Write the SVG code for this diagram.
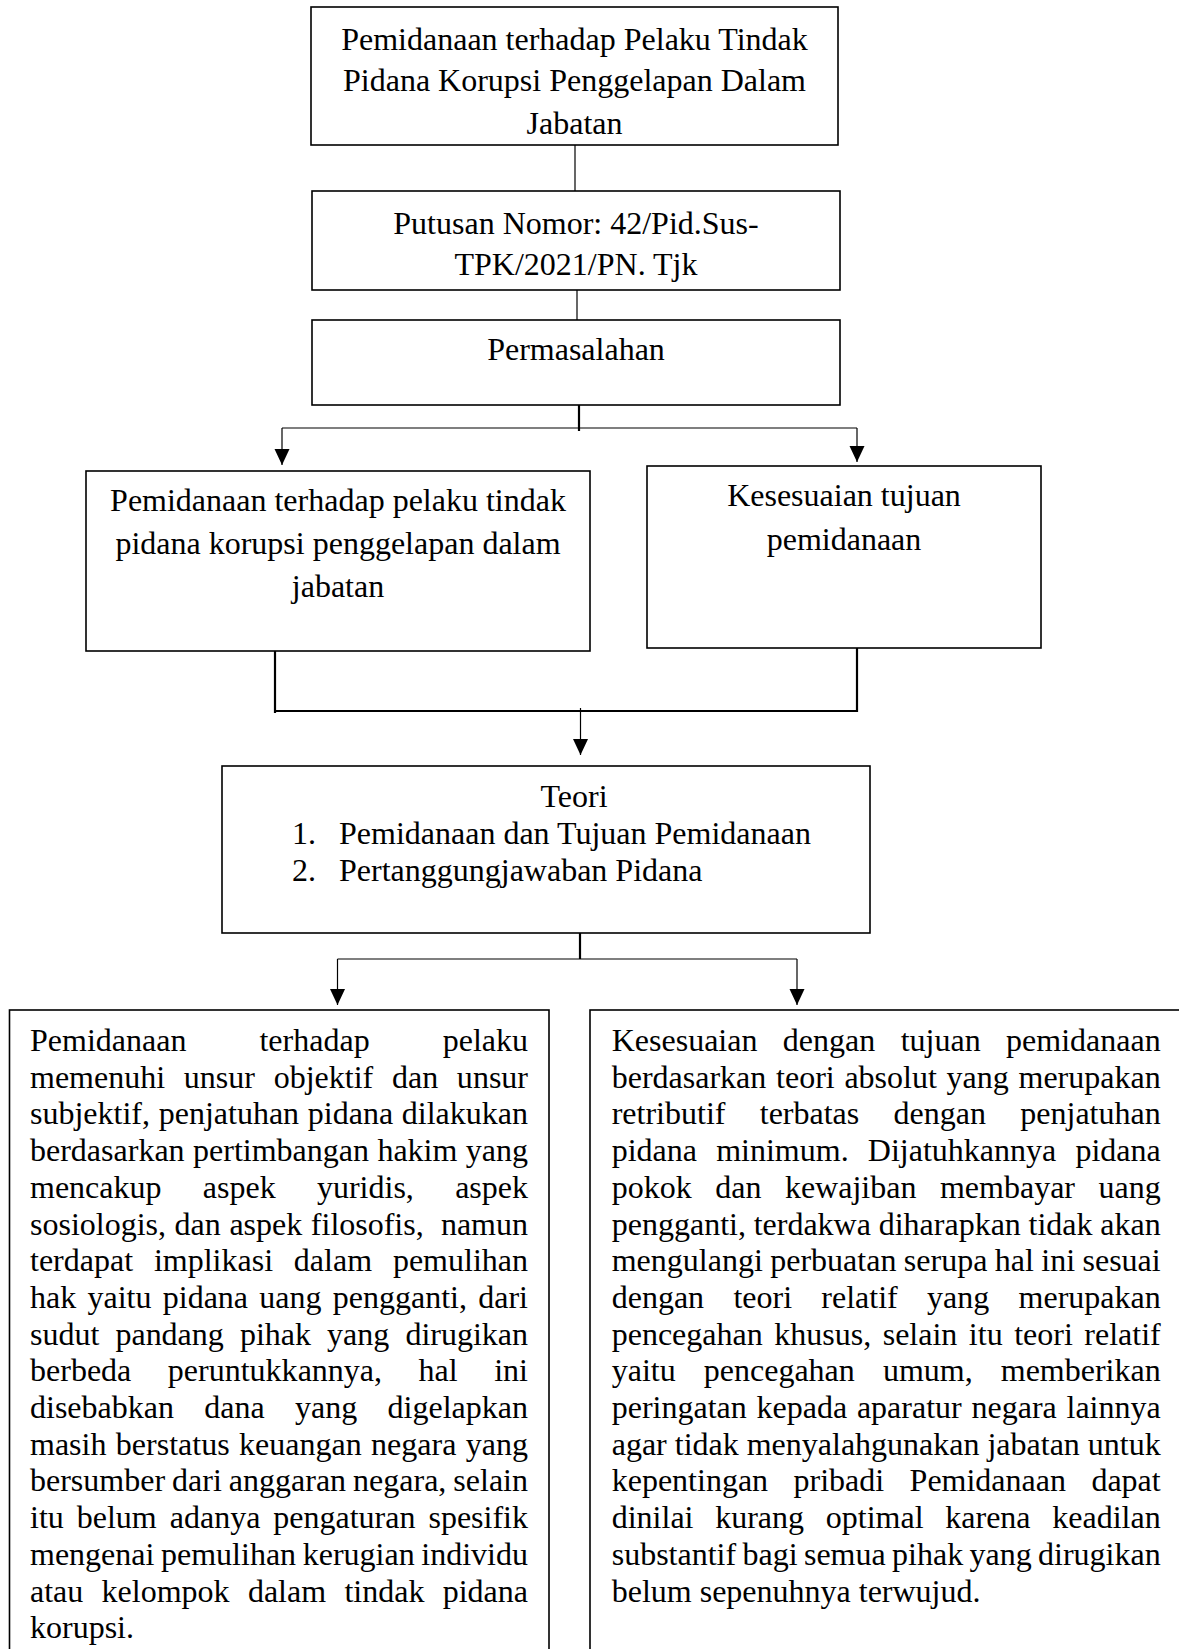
<svg xmlns="http://www.w3.org/2000/svg" width="1179" height="1649" viewBox="0 0 1179 1649">
<style>
.box{fill:#fff;stroke:#000;stroke-width:1.6}
.ln{stroke:#000;stroke-width:1.2;fill:none}
.lt{stroke:#000;stroke-width:2.2;fill:none}
.t{font-family:'Liberation Serif','Times New Roman',serif;font-size:32px;fill:#000}
.c{text-anchor:middle}
</style>
<defs>
<marker id="arr" markerUnits="userSpaceOnUse" markerWidth="16" markerHeight="16" viewBox="0 0 16 16" refX="16" refY="8" orient="auto">
<path d="M0,0.5 L16,8 L0,15.5 Z" fill="#000"/>
</marker>
</defs>
<rect width="1179" height="1649" fill="#fff"/>

<g id="connectors">
<line class="ln" x1="575" y1="145" x2="575" y2="191"/>
<line class="ln" x1="577" y1="290" x2="577" y2="320"/>
<line class="lt" x1="579" y1="405" x2="579" y2="431"/>
<line class="ln" x1="282" y1="428" x2="857" y2="428"/>
<line class="ln" x1="282" y1="428" x2="282" y2="465" marker-end="url(#arr)"/>
<line class="ln" x1="857" y1="428" x2="857" y2="462" marker-end="url(#arr)"/>
<line class="lt" x1="275" y1="651" x2="275" y2="713"/>
<line class="lt" x1="857" y1="645" x2="857" y2="712"/>
<line class="lt" x1="275" y1="711" x2="857" y2="711"/>
<line class="ln" x1="580.5" y1="708" x2="580.5" y2="755" marker-end="url(#arr)"/>
<line class="lt" x1="580" y1="933" x2="580" y2="959"/>
<line class="ln" x1="337.5" y1="959" x2="797" y2="959"/>
<line class="ln" x1="337.5" y1="959" x2="337.5" y2="1005" marker-end="url(#arr)"/>
<line class="ln" x1="797" y1="959" x2="797" y2="1005" marker-end="url(#arr)"/>
</g>

<g id="n1">
<rect class="box" x="311" y="7" width="527" height="138"/>
<text class="t c" x="574.5" y="49.5">Pemidanaan terhadap Pelaku Tindak</text>
<text class="t c" x="574.5" y="91">Pidana Korupsi Penggelapan Dalam</text>
<text class="t c" x="574.5" y="133.5">Jabatan</text>
</g>

<g id="n2">
<rect class="box" x="312" y="191" width="528" height="99"/>
<text class="t c" x="576" y="234">Putusan Nomor: 42/Pid.Sus-</text>
<text class="t c" x="576" y="275">TPK/2021/PN. Tjk</text>
</g>

<g id="n3">
<rect class="box" x="312" y="320" width="528" height="85"/>
<text class="t c" x="576" y="360">Permasalahan</text>
</g>

<g id="n4">
<rect class="box" x="86" y="471" width="504" height="180"/>
<text class="t c" x="338" y="511">Pemidanaan terhadap pelaku tindak</text>
<text class="t c" x="338" y="554">pidana korupsi penggelapan dalam</text>
<text class="t c" x="338" y="596.5">jabatan</text>
</g>

<g id="n5">
<rect class="box" x="647" y="466" width="394" height="182"/>
<text class="t c" x="844" y="506">Kesesuaian tujuan</text>
<text class="t c" x="844" y="549.5">pemidanaan</text>
</g>

<g id="n6">
<rect class="box" x="222" y="766" width="648" height="167"/>
<text class="t c" x="574" y="807">Teori</text>
<text class="t" x="292" y="843.5">1.</text>
<text class="t" x="339" y="843.5">Pemidanaan dan Tujuan Pemidanaan</text>
<text class="t" x="292" y="880.5">2.</text>
<text class="t" x="339" y="880.5">Pertanggungjawaban Pidana</text>
</g>

<g id="n7">
<rect class="box" x="9.5" y="1010" width="539.5" height="660"/>
<text class="t" x="30" y="1051" textLength="498" word-spacing="65.05">Pemidanaan terhadap pelaku</text>
<text class="t" x="30" y="1087.7" textLength="498" word-spacing="10.7">memenuhi unsur objektif dan unsur</text>
<text class="t" x="30" y="1124.4" textLength="498" word-spacing="0.7">subjektif, penjatuhan pidana dilakukan</text>
<text class="t" x="30" y="1161.1" textLength="498" word-spacing="0.4">berdasarkan pertimbangan hakim yang</text>
<text class="t" x="30" y="1197.8" textLength="498" word-spacing="33.3">mencakup aspek yuridis, aspek</text>
<text class="t" x="30" y="1234.5" textLength="498" word-spacing="0.6" xml:space="preserve">sosiologis, dan aspek filosofis,  namun</text>
<text class="t" x="30" y="1271.2" textLength="498" word-spacing="12.8">terdapat implikasi dalam pemulihan</text>
<text class="t" x="30" y="1307.9" textLength="498" word-spacing="3.3">hak yaitu pidana uang pengganti, dari</text>
<text class="t" x="30" y="1344.6" textLength="498" word-spacing="8.1">sudut pandang pihak yang dirugikan</text>
<text class="t" x="30" y="1381.3" textLength="498" word-spacing="28.5">berbeda peruntukkannya, hal ini</text>
<text class="t" x="30" y="1418" textLength="498" word-spacing="22.3">disebabkan dana yang digelapkan</text>
<text class="t" x="30" y="1454.7" textLength="498" word-spacing="1.4">masih berstatus keuangan negara yang</text>
<text class="t" x="30" y="1491.4" textLength="498" word-spacing="-1">bersumber dari anggaran negara, selain</text>
<text class="t" x="30" y="1528.1" textLength="498" word-spacing="5">itu belum adanya pengaturan spesifik</text>
<text class="t" x="30" y="1564.8" textLength="498" word-spacing="-1.4">mengenai pemulihan kerugian individu</text>
<text class="t" x="30" y="1601.5" textLength="498" word-spacing="10.3">atau kelompok dalam tindak pidana</text>
<text class="t" x="30" y="1638.2">korupsi.</text>
</g>

<g id="n8">
<rect class="box" x="590" y="1010" width="600" height="660"/>
<text class="t" x="611.7" y="1051" textLength="549" word-spacing="17.4">Kesesuaian dengan tujuan pemidanaan</text>
<text class="t" x="611.7" y="1087.7" textLength="549" word-spacing="1.7">berdasarkan teori absolut yang merupakan</text>
<text class="t" x="611.7" y="1124.4" textLength="549" word-spacing="26.3">retributif terbatas dengan penjatuhan</text>
<text class="t" x="611.7" y="1161.1" textLength="549" word-spacing="11.2">pidana minimum. Dijatuhkannya pidana</text>
<text class="t" x="611.7" y="1197.8" textLength="549" word-spacing="15.5">pokok dan kewajiban membayar uang</text>
<text class="t" x="611.7" y="1234.5" textLength="549" word-spacing="-0.3">pengganti, terdakwa diharapkan tidak akan</text>
<text class="t" x="611.7" y="1271.2" textLength="549" word-spacing="-0.6">mengulangi perbuatan serupa hal ini sesuai</text>
<text class="t" x="611.7" y="1307.9" textLength="549" word-spacing="21.3">dengan teori relatif yang merupakan</text>
<text class="t" x="611.7" y="1344.6" textLength="549" word-spacing="3.5">pencegahan khusus, selain itu teori relatif</text>
<text class="t" x="611.7" y="1381.3" textLength="549" word-spacing="20.1">yaitu pencegahan umum, memberikan</text>
<text class="t" x="611.7" y="1418" textLength="549" word-spacing="1.75">peringatan kepada aparatur negara lainnya</text>
<text class="t" x="611.7" y="1454.7" textLength="549" word-spacing="0">agar tidak menyalahgunakan jabatan untuk</text>
<text class="t" x="611.7" y="1491.4" textLength="549" word-spacing="17.4">kepentingan pribadi Pemidanaan dapat</text>
<text class="t" x="611.7" y="1528.1" textLength="549" word-spacing="13.7">dinilai kurang optimal karena keadilan</text>
<text class="t" x="611.7" y="1564.8" textLength="549" word-spacing="-1.66">substantif bagi semua pihak yang dirugikan</text>
<text class="t" x="611.7" y="1601.5">belum sepenuhnya terwujud.</text>
</g>
</svg>
